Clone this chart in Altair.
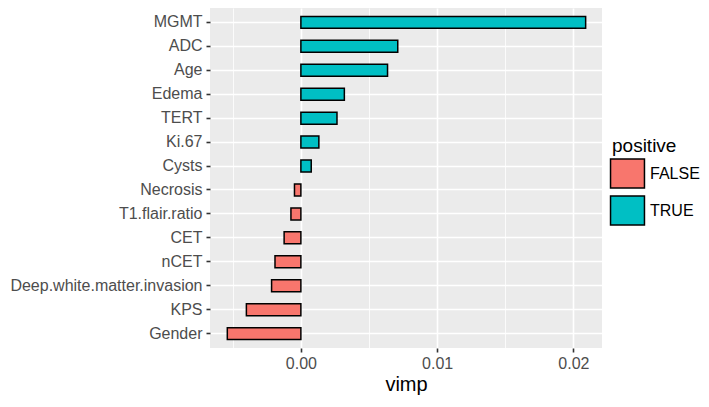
import altair as alt
import pandas as pd

features = ["MGMT", "ADC", "Age", "Edema", "TERT", "Ki.67", "Cysts", "Necrosis",
            "T1.flair.ratio", "CET", "nCET", "Deep.white.matter.invasion", "KPS", "Gender"]
vimp = [0.0209, 0.00711, 0.00636, 0.00319, 0.00265, 0.00132, 0.00076, -0.00047,
        -0.00073, -0.00123, -0.0019, -0.00215, -0.0040, -0.0054]
positive = ["TRUE" if v > 0 else "FALSE" for v in vimp]
major_ticks = [0.0, 0.01, 0.02]
minor_ticks = [-0.005, 0.005, 0.015]
x_domain = [-0.00667, 0.0221]
legend_levels = ["FALSE", "TRUE"]
legend_colors = ["#F8766D", "#00BFC4"]

df = pd.DataFrame({"feature": features, "vimp": vimp, "positive": positive})

FONT = "Liberation Sans"
xscale = alt.Scale(domain=x_domain, nice=False, zero=False)
yscale = alt.Scale(domain=features, paddingInner=0.5, paddingOuter=0.35)

minor = alt.Chart(df).mark_bar(opacity=0).encode(
    x=alt.X("vimp:Q", scale=xscale,
            axis=alt.Axis(orient="top", values=minor_ticks, grid=True, gridColor="white",
                          gridWidth=0.8, labels=False, ticks=False, domain=False, title=None)),
    y=alt.Y("feature:N", scale=yscale, axis=None),
)

bars = alt.Chart(df).mark_bar(stroke="black", strokeWidth=1.5).encode(
    x=alt.X("vimp:Q", scale=xscale,
            axis=alt.Axis(values=major_ticks, format=".2f", grid=True, gridColor="white",
                          gridWidth=1.6, domain=False, tickColor="#333333", tickSize=4,
                          tickWidth=1.6, labelColor="#4D4D4D", labelFontSize=16,
                          labelFont=FONT, labelPadding=3, title="vimp", titleFont=FONT,
                          titleFontSize=20, titleFontWeight="normal", titleColor="black",
                          titlePadding=3)),
    x2=alt.datum(0),
    y=alt.Y("feature:N", scale=yscale, sort=features,
            axis=alt.Axis(grid=True, gridColor="white", gridWidth=1.6, bandPosition=0.5,
                          domain=False, tickColor="#333333", tickSize=4, tickWidth=1.6,
                          tickBand="center", labelColor="#4D4D4D", labelFontSize=16,
                          labelFont=FONT, labelPadding=4, labelLimit=0, title=None)),
    color=alt.Color("positive:N",
                    scale=alt.Scale(domain=legend_levels, range=legend_colors),
                    legend=alt.Legend(title="positive", orient="none", legendX=402,
                                      legendY=129, titleFont=FONT, titleFontSize=19,
                                      titleFontWeight="normal", titleColor="black",
                                      titlePadding=2, labelFont=FONT, labelFontSize=16,
                                      labelColor="black", labelOffset=7,
                                      symbolType="M-1.17,-1H1.17V1H-1.17Z", symbolSize=841,
                                      symbolStrokeColor="black", symbolStrokeWidth=1.5,
                                      symbolOpacity=1, rowPadding=2)),
)

chart = alt.layer(minor, bars).resolve_axis(x="independent", y="independent").properties(
    width=392, height=340,
    autosize=alt.AutoSizeParams(type="none"),
    padding={"left": 202, "top": 0, "right": 99, "bottom": 51},
).configure_view(fill="#EBEBEB", strokeWidth=0)

chart.save("out.html", embed_options={"renderer": "svg", "actions": False})
